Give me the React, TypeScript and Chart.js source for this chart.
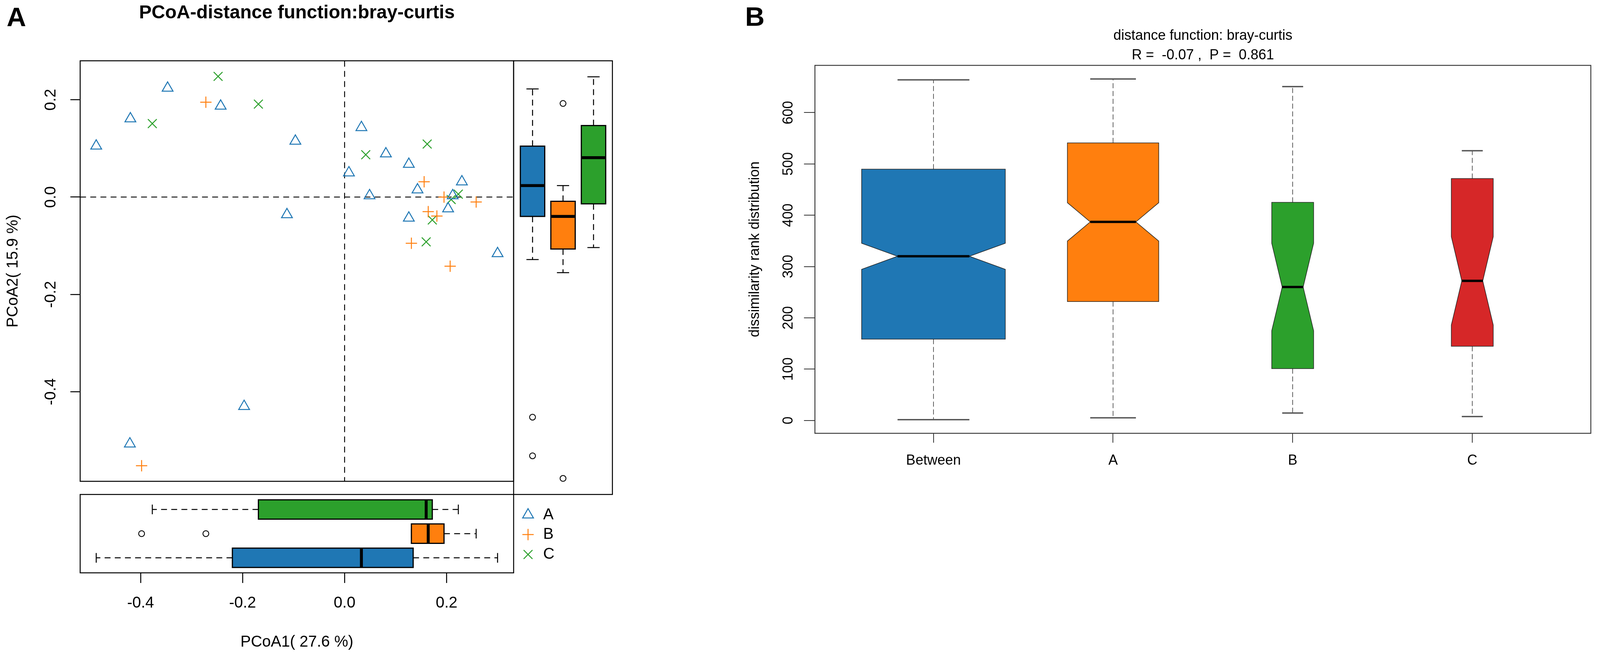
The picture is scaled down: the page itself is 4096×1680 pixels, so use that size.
import React, { useEffect, useRef } from 'react';
import { Chart, registerables } from 'chart.js';
import { drawPoint } from 'chart.js/helpers';

Chart.register(...registerables);

const FONT = '"Liberation Sans", Arial, Helvetica, sans-serif';
Chart.defaults.font.family = FONT;
Chart.defaults.color = '#000';

// ---------------- Panel A data (PCoA scores) ----------------
const GROUP_NAMES = ['A', 'B', 'C'];
const GROUP_COLORS = ['#1f77b4', '#ff7f0e', '#2ca02c'];
const GROUP_SYMBOLS = ['triangle', 'cross', 'crossRot'];

const A_PCOA1 = [-0.347, -0.243, -0.42, -0.487, -0.0965, 0.033, 0.081, 0.126, 0.0085, 0.23, 0.143, 0.049, 0.212, 0.203, -0.113, 0.126, 0.3, -0.197, -0.421];
const A_PCOA2 = [0.224, 0.187, 0.161, 0.105, 0.115, 0.143, 0.089, 0.0675, 0.05, 0.0315, 0.015, 0.003, 0.003, -0.024, -0.036, -0.043, -0.116, -0.43, -0.507];
const B_PCOA1 = [-0.272, 0.156, 0.195, 0.258, 0.164, 0.181, 0.131, 0.207, -0.398];
const B_PCOA2 = [0.195, 0.0315, 0.0, -0.01, -0.03, -0.039, -0.095, -0.142, -0.552];
const C_PCOA1 = [-0.248, -0.169, -0.377, 0.162, 0.0415, 0.223, 0.209, 0.172, 0.16];
const C_PCOA2 = [0.248, 0.191, 0.151, 0.109, 0.087, 0.006, -0.005, -0.047, -0.092];

const PCOA_X_TICKS = [-0.4, -0.2, 0.0, 0.2];
const PCOA_Y_TICKS = [-0.4, -0.2, 0.0, 0.2];

// ---------------- Panel B data (ANOSIM rank distribution) ----------------
const RANK_GROUPS = ['Between', 'A', 'B', 'C'];
const RANK_COLORS = ['#1f77b4', '#ff7f0e', '#2ca02c', '#d62728'];
const RANK_N = [423, 171, 36, 36];
const RANK_WHISKER_LOW = [1.4, 5, 14.4, 7.5];
const RANK_Q1 = [158.4, 231.8, 101, 144.6];
const RANK_MEDIAN = [320, 387, 260, 272];
const RANK_Q3 = [489.7, 541, 425, 471.5];
const RANK_WHISKER_HIGH = [664, 665.6, 650.7, 525.7];
const RANK_Y_TICKS = [0, 100, 200, 300, 400, 500, 600];

// ---------------- Layout (output pixels) ----------------
const S = 0.9;
const PAGE_W = 4096;
const PAGE_H = 1680;
const A_LEFT = 228 * S;
const A_RIGHT = 1461 * S;
const A_TOP = 173 * S;
const A_BOTTOM = 1407 * S;
const A_STRIP_BOTTOM = 1630 * S;
const A_SIDE_RIGHT = 1742 * S;
const B_LEFT = 2318 * S;
const B_RIGHT = 4525 * S;
const B_TOP = 186 * S;
const B_BOTTOM = 1233 * S;

const C1 = { left: 0, top: 0, width: 1320, height: 1271 };
const C2 = { left: 0, top: 1262, width: 1500, height: PAGE_H - 1262 };
const C3 = { left: 1310, top: 151, width: 262, height: 1120 };
const C4 = { left: 1890, top: 0, width: PAGE_W - 1890, height: 1250 };

const POINT_RADII = [16, 14.5, 16];
const LEGEND_SYMBOL_X = 1502 * S;
const LEGEND_TEXT_X = 1545 * S;
const LEGEND_ROWS_Y = [1318.5, 1369, 1420];

const AX_FONT = 40;
const B_FONT = 36;

// ---------------- helpers ----------------
function rlim(vals: number[]) {
  const mn = Math.min(...vals);
  const mx = Math.max(...vals);
  const d = (mx - mn) * 0.04;
  return [mn - d, mx + d];
}

function boxStats(values: number[]) {
  const s = [...values].sort((a, b) => a - b);
  const n = s.length;
  const n4 = Math.floor((n + 3) / 2) / 2;
  const at = (d: number) => 0.5 * (s[Math.floor(d) - 1] + s[Math.ceil(d) - 1]);
  const q1 = at(n4);
  const med = at((n + 1) / 2);
  const q3 = at(n + 1 - n4);
  const iqr = q3 - q1;
  const lf = q1 - 1.5 * iqr;
  const hf = q3 + 1.5 * iqr;
  const inside = s.filter((v) => v >= lf && v <= hf);
  return { lo: inside[0], q1, med, q3, hi: inside[inside.length - 1], out: s.filter((v) => v < lf || v > hf) };
}

const STYLE_A = { border: '#000', borderWidth: 3, medianWidth: 7.5, whiskerColor: '#000', whiskerWidth: 2.5, dash: [15, 11], capColor: '#000', capWidth: 2.5 };
const STYLE_B = { border: '#222', borderWidth: 1.5, medianWidth: 6, whiskerColor: '#222', whiskerWidth: 1.4, dash: [13, 7], capColor: '#555', capWidth: 3.5 };

function drawBox(ctx: any, chart: any, horizontal: boolean, pos: number, half: number, st: any, fill: string, sty: any) {
  const xs = chart.scales.x;
  const ys = chart.scales.y;
  const P = (p: number, v: number) =>
    horizontal ? [xs.getPixelForValue(v), ys.getPixelForValue(p)] : [xs.getPixelForValue(p), ys.getPixelForValue(v)];
  const seg = (a: number[], b: number[]) => {
    ctx.moveTo(a[0], a[1]);
    ctx.lineTo(b[0], b[1]);
  };
  ctx.save();
  ctx.lineCap = 'butt';
  // whiskers
  ctx.setLineDash(sty.dash);
  ctx.strokeStyle = sty.whiskerColor;
  ctx.lineWidth = sty.whiskerWidth;
  ctx.beginPath();
  seg(P(pos, st.q1), P(pos, st.lo));
  seg(P(pos, st.q3), P(pos, st.hi));
  ctx.stroke();
  ctx.setLineDash([]);
  // staples
  ctx.strokeStyle = sty.capColor;
  ctx.lineWidth = sty.capWidth;
  ctx.beginPath();
  seg(P(pos - half / 2, st.lo), P(pos + half / 2, st.lo));
  seg(P(pos - half / 2, st.hi), P(pos + half / 2, st.hi));
  ctx.stroke();
  // box
  const notch = st.nLo !== undefined && st.nHi !== undefined;
  const w = half;
  const wn = half / 2;
  const poly = notch
    ? [
        [pos - w, st.q1], [pos - w, st.nLo], [pos - wn, st.med], [pos - w, st.nHi], [pos - w, st.q3],
        [pos + w, st.q3], [pos + w, st.nHi], [pos + wn, st.med], [pos + w, st.nLo], [pos + w, st.q1],
      ]
    : [[pos - w, st.q1], [pos - w, st.q3], [pos + w, st.q3], [pos + w, st.q1]];
  ctx.beginPath();
  poly.forEach((pv: number[], i: number) => {
    const q = P(pv[0], pv[1]);
    if (i === 0) ctx.moveTo(q[0], q[1]);
    else ctx.lineTo(q[0], q[1]);
  });
  ctx.closePath();
  ctx.fillStyle = fill;
  ctx.fill();
  ctx.strokeStyle = sty.border;
  ctx.lineWidth = sty.borderWidth;
  ctx.lineJoin = 'miter';
  ctx.stroke();
  // median
  const mw = notch ? wn : w;
  ctx.strokeStyle = '#000';
  ctx.lineWidth = sty.medianWidth;
  ctx.beginPath();
  seg(P(pos - mw, st.med), P(pos + mw, st.med));
  ctx.stroke();
  ctx.restore();
}

function drawFrame(chart: any, color: string, width: number) {
  const { ctx, chartArea: ca } = chart;
  ctx.save();
  ctx.strokeStyle = color;
  ctx.lineWidth = width;
  ctx.setLineDash([]);
  ctx.strokeRect(ca.left, ca.top, ca.right - ca.left, ca.bottom - ca.top);
  ctx.restore();
}

const X_SERIES = [A_PCOA1, B_PCOA1, C_PCOA1];
const Y_SERIES = [A_PCOA2, B_PCOA2, C_PCOA2];
const XLIM = rlim([...A_PCOA1, ...B_PCOA1, ...C_PCOA1]);
const YLIM = rlim([...A_PCOA2, ...B_PCOA2, ...C_PCOA2]);
const BOX_LIM = [0.5 - 0.12, 3.5 + 0.12];

const axisGrid = (len: number, color = '#000', lw = 2.5) => ({
  display: true,
  drawOnChartArea: false,
  drawTicks: true,
  tickLength: len,
  color,
  lineWidth: lw,
});

export default function App() {
  const r1 = useRef<HTMLCanvasElement>(null);
  const r2 = useRef<HTMLCanvasElement>(null);
  const r3 = useRef<HTMLCanvasElement>(null);
  const r4 = useRef<HTMLCanvasElement>(null);

  useEffect(() => {
    const xStats = X_SERIES.map(boxStats);
    const yStats = Y_SERIES.map(boxStats);
    const common = { responsive: false, animation: false, events: [] as any[] };
    const noPlug = { legend: { display: false }, tooltip: { enabled: false } };

    // ---- Chart 1: scatter ----
    const c1 = new Chart(r1.current as any, {
      type: 'scatter',
      data: {
        datasets: GROUP_NAMES.map((g, i) => ({
          label: g,
          data: X_SERIES[i].map((x, j) => ({ x, y: Y_SERIES[i][j] })),
          pointStyle: GROUP_SYMBOLS[i],
          pointRadius: POINT_RADII[i],
          pointBorderWidth: 2.5,
          pointBorderColor: GROUP_COLORS[i],
          pointBackgroundColor: 'rgba(0,0,0,0)',
          clip: false,
        })),
      } as any,
      options: {
        ...common,
        layout: { autoPadding: false, padding: { left: 0, top: 0, right: C1.width - A_RIGHT, bottom: C1.height - A_BOTTOM } },
        plugins: {
          ...noPlug,
          title: {
            display: true,
            text: 'PCoA-distance function:bray-curtis',
            fullSize: false,
            color: '#000',
            font: { family: FONT, size: 48, weight: 'bold', lineHeight: 1.2 },
            padding: { top: 5.2, bottom: A_TOP - 5.2 - 57.6 },
          },
        },
        scales: {
          x: { type: 'linear', display: false, min: XLIM[0], max: XLIM[1], bounds: 'data' },
          y: {
            type: 'linear',
            position: 'left',
            min: YLIM[0],
            max: YLIM[1],
            bounds: 'data',
            afterFit: (s: any) => { s.width = A_LEFT; },
            afterBuildTicks: (s: any) => { s.ticks = PCOA_Y_TICKS.map((v) => ({ value: v })); },
            border: { display: false },
            grid: axisGrid(25),
            ticks: {
              autoSkip: false, minRotation: 90, maxRotation: 90, crossAlign: 'center', padding: 14.36,
              color: '#000', font: { family: FONT, size: AX_FONT },
              callback: (v: any) => Number(v).toFixed(1),
            },
            title: { display: true, text: 'PCoA2( 15.9 %)', color: '#000', font: { family: FONT, size: AX_FONT }, padding: { top: 10.2, bottom: 0 } },
          },
        },
      } as any,
      plugins: [
        {
          id: 'scatterDecor',
          beforeDatasetsDraw(chart: any) {
            const { ctx, chartArea: ca, scales } = chart;
            const x0 = scales.x.getPixelForValue(0);
            const y0 = scales.y.getPixelForValue(0);
            ctx.save();
            ctx.strokeStyle = '#000';
            ctx.lineWidth = 2.3;
            ctx.setLineDash([15, 11]);
            ctx.beginPath();
            ctx.moveTo(x0, ca.top);
            ctx.lineTo(x0, ca.bottom);
            ctx.moveTo(ca.left, y0);
            ctx.lineTo(ca.right, y0);
            ctx.stroke();
            ctx.restore();
          },
          afterDraw(chart: any) {
            drawFrame(chart, '#000', 2.5);
            const ctx = chart.ctx;
            ctx.save();
            ctx.fillStyle = '#000';
            ctx.font = `bold 69px ${FONT}`;
            ctx.textAlign = 'left';
            ctx.textBaseline = 'alphabetic';
            ctx.fillText('A', 17, 66.5);
            ctx.restore();
          },
        },
      ],
    });

    // ---- Chart 2: horizontal boxplots of PCoA1 + x axis + legend ----
    const c2 = new Chart(r2.current as any, {
      type: 'scatter',
      data: {
        datasets: GROUP_NAMES.map((g, i) => ({
          label: g + ' outliers',
          data: xStats[i].out.map((v) => ({ x: v, y: i + 1 })),
          pointStyle: 'circle',
          pointRadius: 7.5,
          pointBorderWidth: 2.2,
          pointBorderColor: '#000',
          pointBackgroundColor: 'rgba(0,0,0,0)',
          clip: false,
        })),
      } as any,
      options: {
        ...common,
        layout: { autoPadding: false, padding: { left: A_LEFT, right: C2.width - A_RIGHT, top: A_BOTTOM - C2.top, bottom: 0 } },
        plugins: noPlug,
        scales: {
          x: {
            type: 'linear',
            position: 'bottom',
            min: XLIM[0],
            max: XLIM[1],
            bounds: 'data',
            afterFit: (s: any) => { s.height = PAGE_H - A_STRIP_BOTTOM; },
            afterBuildTicks: (s: any) => { s.ticks = PCOA_X_TICKS.map((v) => ({ value: v })); },
            border: { display: false },
            grid: axisGrid(26),
            ticks: {
              autoSkip: false, minRotation: 0, maxRotation: 0, padding: 28.3,
              color: '#000', font: { family: FONT, size: AX_FONT },
              callback: (v: any) => Number(v).toFixed(1),
            },
            title: { display: true, text: 'PCoA1( 27.6 %)', color: '#000', font: { family: FONT, size: AX_FONT }, padding: { top: 0, bottom: 11 } },
          },
          y: { type: 'linear', display: false, min: BOX_LIM[0], max: BOX_LIM[1] },
        },
      } as any,
      plugins: [
        {
          id: 'hBoxes',
          beforeDatasetsDraw(chart: any) {
            xStats.forEach((st, i) => drawBox(chart.ctx, chart, true, i + 1, 0.4, st, GROUP_COLORS[i], STYLE_A));
          },
          afterDraw(chart: any) {
            drawFrame(chart, '#000', 2.5);
            const ctx = chart.ctx;
            ctx.save();
            GROUP_NAMES.forEach((g, i) => {
              const y = LEGEND_ROWS_Y[i] - C2.top;
              ctx.fillStyle = 'rgba(0,0,0,0)';
              ctx.strokeStyle = GROUP_COLORS[i];
              ctx.lineWidth = 2.5;
              drawPoint(ctx, { pointStyle: GROUP_SYMBOLS[i], radius: POINT_RADII[i], borderWidth: 2.5, rotation: 0 } as any, LEGEND_SYMBOL_X - C2.left, y);
              ctx.fillStyle = '#000';
              ctx.font = `${AX_FONT}px ${FONT}`;
              ctx.textAlign = 'left';
              ctx.textBaseline = 'middle';
              ctx.fillText(g, LEGEND_TEXT_X - C2.left, y);
            });
            ctx.restore();
          },
        },
      ],
    });

    // ---- Chart 3: vertical boxplots of PCoA2 ----
    const c3 = new Chart(r3.current as any, {
      type: 'scatter',
      data: {
        datasets: GROUP_NAMES.map((g, i) => ({
          label: g + ' outliers',
          data: yStats[i].out.map((v) => ({ x: i + 1, y: v })),
          pointStyle: 'circle',
          pointRadius: 7.5,
          pointBorderWidth: 2.2,
          pointBorderColor: '#000',
          pointBackgroundColor: 'rgba(0,0,0,0)',
          clip: false,
        })),
      } as any,
      options: {
        ...common,
        layout: {
          autoPadding: false,
          padding: { left: A_RIGHT - C3.left, right: C3.left + C3.width - A_SIDE_RIGHT, top: A_TOP - C3.top, bottom: C3.top + C3.height - A_BOTTOM },
        },
        plugins: noPlug,
        scales: {
          x: { type: 'linear', display: false, min: BOX_LIM[0], max: BOX_LIM[1] },
          y: { type: 'linear', display: false, min: YLIM[0], max: YLIM[1] },
        },
      } as any,
      plugins: [
        {
          id: 'vBoxes',
          beforeDatasetsDraw(chart: any) {
            yStats.forEach((st, i) => drawBox(chart.ctx, chart, false, i + 1, 0.4, st, GROUP_COLORS[i], STYLE_A));
          },
          afterDraw(chart: any) {
            drawFrame(chart, '#000', 2.5);
          },
        },
      ],
    });

    // ---- Chart 4: panel B notched boxplots ----
    const maxSqrt = Math.sqrt(Math.max(...RANK_N));
    const rankStats = RANK_GROUPS.map((g, i) => {
      const iqr = RANK_Q3[i] - RANK_Q1[i];
      const nd = (1.58 * iqr) / Math.sqrt(RANK_N[i]);
      return {
        lo: RANK_WHISKER_LOW[i], q1: RANK_Q1[i], med: RANK_MEDIAN[i], q3: RANK_Q3[i], hi: RANK_WHISKER_HIGH[i],
        nLo: RANK_MEDIAN[i] - nd, nHi: RANK_MEDIAN[i] + nd,
      };
    });
    const allRank = [...RANK_WHISKER_LOW, ...RANK_WHISKER_HIGH];
    const RLIM = rlim(allRank);
    const c4 = new Chart(r4.current as any, {
      type: 'scatter',
      data: { datasets: [] },
      options: {
        ...common,
        layout: { autoPadding: false, padding: { left: 0, top: 0, right: C4.left + C4.width - B_RIGHT, bottom: 0 } },
        plugins: {
          ...noPlug,
          title: {
            display: true,
            text: ['distance function: bray-curtis', 'R =  -0.07 ,  P =  0.861'],
            fullSize: false,
            color: '#000',
            font: { family: FONT, size: B_FONT, weight: 'normal', lineHeight: 1.4 },
            padding: { top: B_TOP - 2 * B_FONT * 1.4, bottom: 0 },
          },
        },
        scales: {
          x: {
            type: 'linear',
            position: 'bottom',
            min: 0.34,
            max: 4.66,
            bounds: 'data',
            afterFit: (s: any) => { s.height = C4.height - B_BOTTOM; },
            afterBuildTicks: (s: any) => { s.ticks = RANK_GROUPS.map((g, i) => ({ value: i + 1 })); },
            border: { display: false },
            grid: axisGrid(24, '#333', 2),
            ticks: {
              autoSkip: false, minRotation: 0, maxRotation: 0, padding: 24.7,
              color: '#000', font: { family: FONT, size: B_FONT },
              callback: (v: any) => RANK_GROUPS[Math.round(Number(v)) - 1],
            },
          },
          y: {
            type: 'linear',
            position: 'left',
            min: RLIM[0],
            max: RLIM[1],
            bounds: 'data',
            afterFit: (s: any) => { s.width = B_LEFT - C4.left; },
            afterBuildTicks: (s: any) => { s.ticks = RANK_Y_TICKS.map((v) => ({ value: v })); },
            border: { display: false },
            grid: axisGrid(28, '#333', 2),
            ticks: {
              autoSkip: false, minRotation: 90, maxRotation: 90, crossAlign: 'center', padding: 9.5,
              color: '#000', font: { family: FONT, size: B_FONT },
              callback: (v: any) => String(v),
            },
            title: { display: true, text: 'dissimilarity rank distribution', color: '#000', font: { family: FONT, size: B_FONT }, padding: { top: 21.6, bottom: 0 } },
          },
        },
      } as any,
      plugins: [
        {
          id: 'notchBoxes',
          beforeDatasetsDraw(chart: any) {
            rankStats.forEach((st, i) => {
              const half = (0.4 * Math.sqrt(RANK_N[i])) / maxSqrt;
              drawBox(chart.ctx, chart, false, i + 1, half, st, RANK_COLORS[i], STYLE_B);
            });
          },
          afterDraw(chart: any) {
            drawFrame(chart, '#333', 2.3);
            const ctx = chart.ctx;
            ctx.save();
            ctx.fillStyle = '#000';
            ctx.font = `bold 69px ${FONT}`;
            ctx.textAlign = 'left';
            ctx.textBaseline = 'alphabetic';
            ctx.fillText('B', 17.5, 66);
            ctx.restore();
          },
        },
      ],
    });

    return () => {
      c1.destroy();
      c2.destroy();
      c3.destroy();
      c4.destroy();
    };
  }, []);

  const cs = (c: any) => ({ position: 'absolute' as const, left: c.left, top: c.top, width: c.width, height: c.height });

  return (
    <div style={{ position: 'fixed', left: 0, top: 0, width: PAGE_W, height: PAGE_H, overflow: 'hidden', background: '#fff' }}>
      <canvas ref={r1} width={C1.width} height={C1.height} style={cs(C1)} />
      <canvas ref={r2} width={C2.width} height={C2.height} style={cs(C2)} />
      <canvas ref={r3} width={C3.width} height={C3.height} style={cs(C3)} />
      <canvas ref={r4} width={C4.width} height={C4.height} style={cs(C4)} />
    </div>
  );
}
